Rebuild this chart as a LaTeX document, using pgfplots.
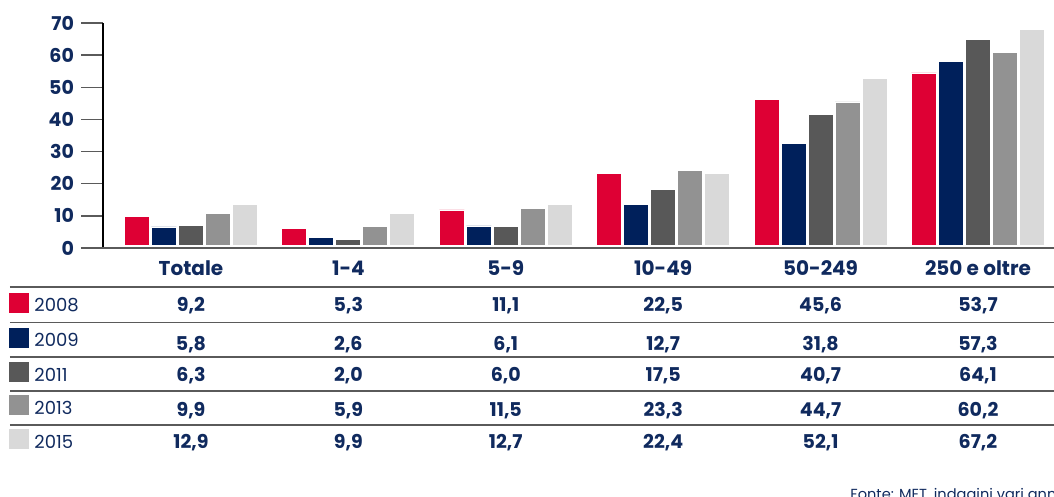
\documentclass[border=0pt]{standalone}
\usepackage{fontspec}
\setmainfont{Poppins}
\usepackage{pgfplots}
\pgfplotsset{compat=1.18}
\usepackage{pgfplotstable}
\usetikzlibrary{calc}

\definecolor{c2008}{RGB}{222,0,52}
\definecolor{c2009}{RGB}{0,32,91}
\definecolor{c2011}{RGB}{88,88,88}
\definecolor{c2013}{RGB}{146,146,146}
\definecolor{c2015}{RGB}{217,217,217}
\definecolor{txt}{RGB}{16,42,94}
\definecolor{rule}{RGB}{90,90,90}

% values per size class (Totale, 1-4, 5-9, 10-49, 50-249, 250 e oltre)
\pgfplotstableread{
x  y2008 y2009 y2011 y2013 y2015
0  9.2   5.8   6.3   9.9   12.9
1  5.3   2.6   2.0   5.9   9.9
2  11.1  6.1   6.0   11.5  12.7
3  22.5  12.7  17.5  23.3  22.4
4  45.6  31.8  40.7  44.7  52.1
5  53.7  57.3  64.1  60.2  67.2
}\data

\pgfplotsset{
  bars/.style={ybar, bar width=12.5pt, draw=white, line width=0.4pt, yshift=1.2pt},
  cell/.style={draw=none, mark=none, nodes near coords={\pgfmathprintnumber[fixed,fixed zerofill,precision=1,use comma]{\pgfplotspointmeta}},
    point meta=explicit,
    every node near coord/.append style={anchor=base, inner sep=0pt, text=txt, font=\bfseries\fontsize{9.5}{11}\selectfont}},
  hrule/.style={rule, line width=0.75pt},
}

\begin{document}
\begin{tikzpicture}
\begin{axis}[
    name=ax,
    scale only axis,
    width=475.5pt, height=112.5pt,
    xmin=-0.559, xmax=5.483,
    ymin=0, ymax=70,
    clip=false,
    axis lines*=left,
    axis line style={-},
    x axis line style={draw=none},
    y axis line style={black, line width=0.6pt},
    xtick=\empty,
    ytick={0,10,...,70},
    tick align=outside,
    major tick length=11pt,
    ytick style={draw=rule, line width=0.75pt},
    yticklabel style={text=txt, font=\bfseries\fontsize{9.5}{11}\selectfont},
    /pgf/number format/assume math mode=true,
]
% bars
\addplot[bars, bar shift=-27pt,   fill=c2008] table[x=x, y=y2008] {\data};
\addplot[bars, bar shift=-13.5pt, fill=c2009] table[x=x, y=y2009] {\data};
\addplot[bars, bar shift=0pt,     fill=c2011] table[x=x, y=y2011] {\data};
\addplot[bars, bar shift=13.5pt,  fill=c2013] table[x=x, y=y2013] {\data};
\addplot[bars, bar shift=27pt,    fill=c2015] table[x=x, y=y2015] {\data};

% baseline
\addplot[rule, line width=0.75pt] coordinates {(-0.699,0) (5.483,0)};

% category labels
\addplot[draw=none, mark=none, nodes near coords, point meta=explicit symbolic,
  every node near coord/.append style={anchor=base, inner sep=0pt, text=txt, font=\bfseries\fontsize{10}{12}\selectfont}]
  coordinates {(0,-8.7)[Totale] (1,-8.7)[1-4] (2,-8.7)[5-9] (3,-8.7)[10-49] (4,-8.7)[50-249] (5,-8.7)[250 e oltre]};

% table rules
\addplot[hrule] coordinates {(-1.15,-12.06) (5.483,-12.06)};
\addplot[hrule] coordinates {(-1.15,-23.15) (5.483,-23.15)};
\addplot[hrule] coordinates {(-1.15,-33.86) (5.483,-33.86)};
\addplot[hrule] coordinates {(-1.15,-44.55) (5.483,-44.55)};
\addplot[hrule] coordinates {(-1.15,-55.14) (5.483,-55.14)};

% table cells
\addplot[cell] table[x=x, y expr=-19.84, meta=y2008] {\data};
\addplot[cell] table[x=x, y expr=-31.78, meta=y2009] {\data};
\addplot[cell] table[x=x, y expr=-41.43, meta=y2011] {\data};
\addplot[cell] table[x=x, y expr=-52.55, meta=y2013] {\data};
\addplot[cell] table[x=x, y expr=-62.40, meta=y2015] {\data};

% row keys
\addplot[only marks, mark=square*, mark size=4.75pt, c2008] coordinates {(-1.096,-16.98)};
\addplot[only marks, mark=square*, mark size=4.75pt, c2009] coordinates {(-1.096,-27.88)};
\addplot[only marks, mark=square*, mark size=4.75pt, c2011] coordinates {(-1.096,-38.47)};
\addplot[only marks, mark=square*, mark size=4.75pt, c2013] coordinates {(-1.096,-48.75)};
\addplot[only marks, mark=square*, mark size=4.75pt, c2015] coordinates {(-1.096,-59.35)};
\addplot[draw=none, mark=none, nodes near coords, point meta=explicit symbolic,
  every node near coord/.append style={anchor=base west, inner sep=0pt, text=txt, font=\fontsize{9}{11}\selectfont}]
  coordinates {(-0.997,-19.84)[2008] (-0.997,-30.75)[2009] (-0.997,-41.65)[2011] (-0.997,-51.71)[2013] (-0.997,-62.40)[2015]};

% source
\addplot[draw=none, mark=none, nodes near coords, point meta=explicit symbolic,
  every node near coord/.append style={anchor=base west, inner sep=0pt, text=txt, font=\fontsize{7.3}{9}\selectfont}]
  coordinates {(4.187,-78.2)[{Fonte: MET, indagini vari anni}]};
\end{axis}
\pgfresetboundingbox
\path[use as bounding box] ($(ax.south west)+(-51.5pt,-124.5pt)$) rectangle ($(ax.south west)+(475.5pt,124pt)$);
\end{tikzpicture}
\end{document}
